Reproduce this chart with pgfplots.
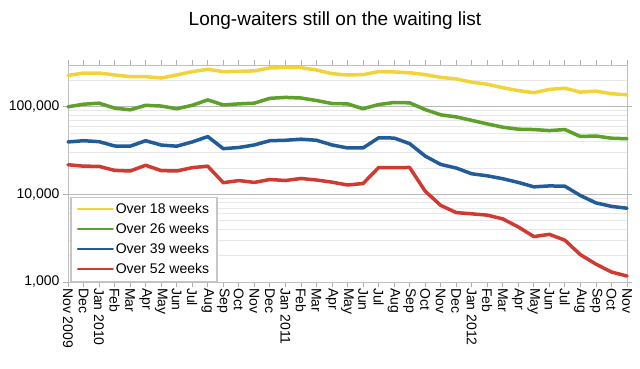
\documentclass[border=0pt]{standalone}
\usepackage{pgfplots}
\pgfplotsset{compat=1.18}
\usepackage{pgfplotstable}
\usepackage{fontspec}
\setmainfont{Liberation Sans}
\definecolor{cY}{HTML}{F2D43A}
\definecolor{cG}{HTML}{5DA02A}
\definecolor{cB}{HTML}{1F5C99}
\definecolor{cR}{HTML}{D03A30}
\pgfplotstableread{
i  a      b      c      d
0  228000 100000 39700 21800
1  243000 107000 41000 21000
2  243000 110000 40000 20900
3  231000 96600  35700 18800
4  221000 92400  35500 18500
5  221000 104000 41000 21500
6  213000 102000 36600 18700
7  231000 95000  35500 18500
8  252000 104000 39700 20200
9  268000 120000 45700 21000
10 252000 105000 33300 13600
11 254000 108000 34300 14400
12 257000 110000 36700 13700
13 278000 125000 41000 14800
14 280000 128000 41500 14400
15 280000 126000 42700 15200
16 263000 118000 41500 14600
17 239000 109000 36700 13800
18 231000 108000 33900 12800
19 233000 95000  33900 13300
20 252000 106000 44200 20200
21 250000 112000 44000 20200
22 245000 111000 38000 20300
23 233000 93000  27400 10900
24 217000 81000  22000 7500
25 208000 76700  20000 6200
26 191000 70000  17200 6000
27 181000 63800  16300 5800
28 165000 58500  15100 5250
29 153000 55500  13700 4250
30 145000 55000  12200 3300
31 158000 53500  12500 3500
32 163000 55000  12400 3000
33 147000 45800  9700  2050
34 151000 46400  8000  1600
35 141000 43800  7300  1300
36 137000 43200  6950  1170
}\datatable
\pgfplotsset{
  mylegimg/.style={legend image code/.code={\draw[##1, line width=2pt] (0pt,0pt) -- (35pt,0pt);}},
}
\begin{document}
\begin{tikzpicture}
\begin{axis}[
  at={(0,0)}, anchor=south west,
  scale only axis, width=559pt, height=217pt,
  ymode=log, ymin=1000, ymax=300000,
  xmin=0, xmax=36,
  ytick={1000,10000,100000},
  yticklabels={{1,000},{10,000},{100,000}},
  minor ytick={2000,3000,4000,5000,6000,7000,8000,9000,20000,30000,40000,50000,60000,70000,80000,90000,200000},
  ymajorgrids, yminorgrids,
  major grid style={draw=gray!55, line width=0.8pt},
  minor grid style={draw=gray!18, line width=0.8pt},
  xtick={0,...,36},
  xticklabels={Nov 2009,Dec,Jan 2010,Feb,Mar,Apr,May,Jun,Jul,Aug,Sep,Oct,Nov,Dec,Jan 2011,Feb,Mar,Apr,May,Jun,Jul,Aug,Sep,Oct,Nov,Dec,Jan 2012,Feb,Mar,Apr,May,Jun,Jul,Aug,Sep,Oct,Nov},
  x tick label style={rotate=-90, anchor=west, font=\fontsize{14}{14}\selectfont, inner xsep=1pt},
  y tick label style={font=\fontsize{14}{16}\selectfont},
  /pgf/number format/assume math mode=true,
  tick align=outside, major tick length=5pt,
  xtick style={draw=gray!60, line width=0.8pt},
  ytick style={draw=gray!60, line width=0.8pt},
  minor tick length=0pt,
  axis line style={draw=gray!50, line width=0.9pt},
  legend style={at={(0.0036,0)}, anchor=south west, draw=gray!45, line width=1.5pt, fill=white,
     font=\fontsize{14}{16}\selectfont, row sep=4.4pt, inner xsep=6pt, inner ysep=4pt},
  legend cell align=left,
  mylegimg,
  every axis plot/.append style={line width=3.5pt, line join=round, line cap=round},
  clip=false,
]
\addplot[cY] table[x=i,y=a]{\datatable};
\addlegendentry{Over 18 weeks}
\addplot[cG] table[x=i,y=b]{\datatable};
\addlegendentry{Over 26 weeks}
\addplot[cB] table[x=i,y=c]{\datatable};
\addlegendentry{Over 39 weeks}
\addplot[cR] table[x=i,y=d]{\datatable};
\addlegendentry{Over 52 weeks}
\end{axis}
\node[font=\fontsize{19}{22}\selectfont] at (267pt,261pt) {Long-waiters still on the waiting list};
\path[use as bounding box] (-68pt,-86pt) rectangle (572pt,282pt);
\end{tikzpicture}
\end{document}
